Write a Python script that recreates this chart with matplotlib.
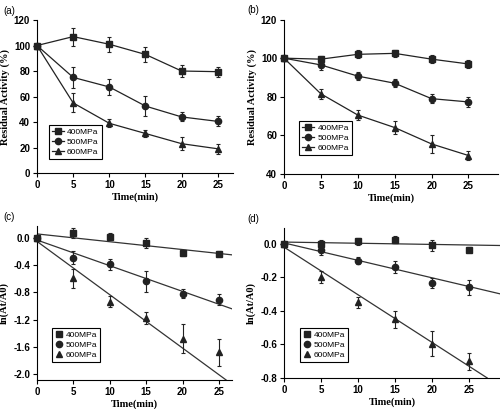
import numpy as np
import matplotlib.pyplot as plt
from matplotlib.lines import Line2D

t = [0, 5, 10, 15, 20, 25]
labels = ['400MPa', '500MPa', '600MPa']
markers = ['s', 'o', '^']

# (a) residual activity
a_400 = [100, 107, 101, 93, 80, 79.5]
a_500 = [100, 75, 67.5, 52.5, 44, 40.5]
a_600 = [100, 55, 39, 31, 23, 19]
a_400_err = [0, 7, 6, 6, 5, 4]
a_500_err = [0, 8, 6, 8, 3.5, 4]
a_600_err = [0, 7.5, 3, 3, 5, 4]

# (b) residual activity
b_400 = [100, 99.5, 102, 102.5, 99.5, 97]
b_500 = [100, 96.5, 90.7, 87, 79, 77.3]
b_600 = [100, 81.5, 70.5, 64, 55.5, 49.5]
b_400_err = [0, 1.5, 2, 2, 2, 2]
b_500_err = [0, 2.5, 2, 2, 2.5, 2.5]
b_600_err = [0, 2.5, 2.5, 3.5, 4.5, 2.5]

# (c) ln(At/A0)
c_400 = [0, 0.07, 0.02, -0.07, -0.22, -0.23]
c_500 = [0, -0.29, -0.39, -0.64, -0.82, -0.91]
c_600 = [0, -0.59, -0.94, -1.18, -1.48, -1.68]
c_400_err = [0, 0.07, 0.05, 0.07, 0.05, 0.04]
c_500_err = [0, 0.1, 0.08, 0.15, 0.07, 0.08]
c_600_err = [0, 0.14, 0.08, 0.09, 0.22, 0.2]
c_fit_icpt = [0.06, -0.03, -0.05]
c_fit_slope = [-0.0115, -0.0378, -0.0785]

# (d) ln(At/A0)
d_400 = [0, 0, 0.015, 0.025, -0.01, -0.035]
d_500 = [0, -0.04, -0.1, -0.14, -0.235, -0.26]
d_600 = [0, -0.2, -0.35, -0.45, -0.595, -0.7]
d_400_err = [0, 0.025, 0.02, 0.02, 0.035, 0.015]
d_500_err = [0, 0.025, 0.02, 0.035, 0.03, 0.045]
d_600_err = [0, 0.035, 0.035, 0.05, 0.075, 0.05]
d_fit_icpt = [0.01, 0.005, -0.02]
d_fit_slope = [-0.0007, -0.0104, -0.0284]

fig = plt.figure(figsize=(5, 4.09), dpi=100)

tick_font = dict(family='Liberation Sans', weight='bold', size=7)
lab_font = dict(family='Liberation Serif', weight='bold', size=7.5)
ink = '#222222'


def style(ax, xlim, ylim, yticks, fmt, ylabel, tag):
    ax.set_xlim(*xlim)
    ax.set_ylim(*ylim)
    ax.set_xticks(t)
    ax.set_yticks(yticks)
    ax.set_xticklabels([str(v) for v in t], **tick_font)
    ax.set_yticklabels([fmt.format(v) for v in yticks], **tick_font)
    ax.spines['top'].set_visible(False)
    ax.spines['right'].set_visible(False)
    ax.tick_params(direction='out', length=3, width=0.8, pad=2)
    ax.set_xlabel('Time(min)', labelpad=2, **lab_font)
    ax.set_ylabel(ylabel, labelpad=3, **lab_font)
    ax.text(-0.17, 1.06, tag, transform=ax.transAxes, fontsize=7,
            family='Liberation Sans', va='center')


def panel(ax, ys, errs, lines, anchor, fits=None):
    handles = []
    for y, e, m in zip(ys, errs, markers):
        ax.errorbar(t, y, yerr=e, fmt=m + ('-' if lines else ''),
                    color=ink, mfc=ink, mec=ink,
                    ms=4.5, lw=0.9, elinewidth=0.8, capsize=1.5,
                    capthick=0.8, clip_on=False, zorder=3)
        handles.append(Line2D([], [], marker=m, ms=4.5, color=ink,
                              lw=0.9 if lines else 0))
    if fits is not None:
        for b0, b1 in zip(*fits):
            ax.axline((0, b0), slope=b1, color='#333333', lw=0.9, zorder=2)
    leg = ax.legend(handles, labels, loc='lower left',
                    bbox_to_anchor=anchor, borderaxespad=0,
                    prop={'family': 'Liberation Sans', 'size': 6},
                    fancybox=False, edgecolor='black', framealpha=1,
                    handlelength=1.4 if lines else 0.8, handletextpad=0.4,
                    labelspacing=0.25, borderpad=0.4)
    leg.get_frame().set_linewidth(0.8)


ax_a = fig.add_axes([0.074, 0.577, 0.392, 0.374])
panel(ax_a, [a_400, a_500, a_600], [a_400_err, a_500_err, a_600_err], True,
      (0.06, 0.09))
style(ax_a, (0, 27.1), (0, 120), [0, 20, 40, 60, 80, 100, 120], '{:d}',
      'Residual Activity (%)', '(a)')

ax_b = fig.add_axes([0.568, 0.575, 0.428, 0.377])
panel(ax_b, [b_400, b_500, b_600], [b_400_err, b_500_err, b_600_err], True,
      (0.07, 0.12))
style(ax_b, (0, 29), (40, 120), [40, 60, 80, 100, 120], '{:d}',
      'Residual Activity (%)', '(b)')

ax_c = fig.add_axes([0.074, 0.071, 0.39, 0.377])
panel(ax_c, [c_400, c_500, c_600], [c_400_err, c_500_err, c_600_err], False,
      (0.077, 0.117), (c_fit_icpt, c_fit_slope))
style(ax_c, (0, 26.8), (-2.09, 0.18), [-2.0, -1.6, -1.2, -0.8, -0.4, 0.0],
      '{:.1f}', 'ln(At/A0)', '(c)')

ax_d = fig.add_axes([0.568, 0.076, 0.432, 0.367])
panel(ax_d, [d_400, d_500, d_600], [d_400_err, d_500_err, d_600_err], False,
      (0.074, 0.107), (d_fit_icpt, d_fit_slope))
style(ax_d, (0, 29.2), (-0.8, 0.095), [-0.8, -0.6, -0.4, -0.2, 0.0],
      '{:.1f}', 'ln(At/A0)', '(d)')

fig.savefig('out.png', dpi=100)
